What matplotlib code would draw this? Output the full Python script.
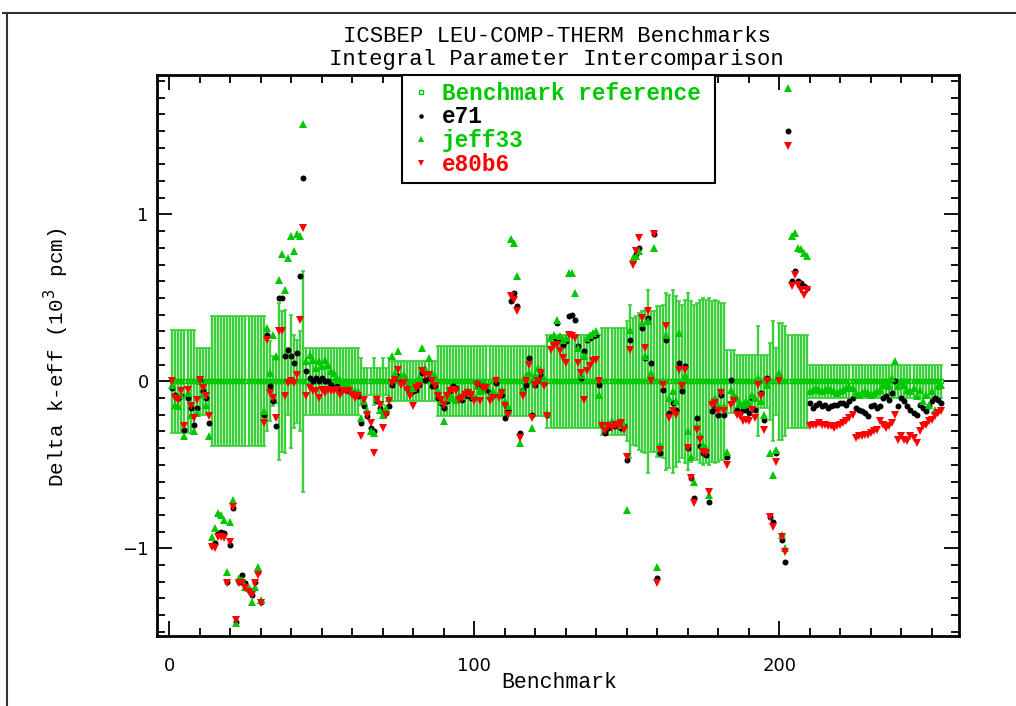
import numpy as np
import matplotlib
matplotlib.use("Agg")
import matplotlib.pyplot as plt
from matplotlib.lines import Line2D
from matplotlib.ticker import MultipleLocator

# benchmark number (1..253) on the x axis
bench = np.arange(1, 254)

# Delta k-eff in 10^3 pcm, 10 benchmarks per line
e71 = [
    -0.04, -0.08, -0.10, -0.09, -0.29, -0.10, -0.16, -0.26, -0.16, 0.00,
    -0.06, -0.10, -0.25, -0.98, -0.97, -0.91, -0.90, -0.91, -1.20, -0.98,
    -0.76, -1.44, -1.20, -1.16, -1.21, -1.25, -1.28, -1.20, -1.14, -1.32,
    -0.20, 0.28, -0.03, -0.12, -0.27, 0.50, 0.50, 0.15, 0.19, 0.15,
    0.11, 0.17, 0.63, 1.22, 0.06, 0.02, 0.00, 0.02, 0.00, 0.02,
    0.00, 0.00, -0.02, -0.04, -0.03, -0.05, -0.03, -0.05, -0.06, -0.07,
    -0.07, -0.09, -0.25, -0.15, -0.21, -0.28, -0.30, -0.12, -0.16, -0.19,
    -0.19, -0.15, -0.02, 0.02, 0.03, 0.00, 0.02, -0.04, -0.07, -0.06,
    -0.05, -0.02, 0.05, 0.01, 0.02, -0.03, -0.03, -0.10, -0.13, -0.16,
    -0.12, -0.06, -0.03, -0.04, -0.10, -0.11, -0.09, -0.08, -0.10, -0.10,
    -0.01, -0.04, -0.03, -0.05, -0.07, -0.08, -0.01, -0.08, -0.08, -0.22,
    -0.17, 0.48, 0.53, 0.45, -0.31, -0.05, -0.02, 0.14, -0.20, -0.02,
    0.01, 0.03, -0.01, -0.20, 0.26, 0.24, 0.35, 0.25, 0.22, 0.24,
    0.39, 0.40, 0.37, 0.21, 0.02, 0.18, 0.25, 0.26, 0.27, 0.28,
    -0.02, -0.26, -0.31, -0.28, -0.26, -0.27, -0.25, -0.28, -0.27, -0.47,
    0.25, 0.72, 0.76, 0.80, 0.32, 0.14, 0.38, 0.11, 0.88, -1.18,
    -0.43, -0.05, 0.25, -0.19, -0.13, -0.17, 0.11, -0.06, 0.09, -0.40,
    -0.58, -0.70, -0.22, -0.39, -0.43, -0.44, -0.72, -0.18, -0.16, -0.20,
    -0.08, -0.20, -0.45, 0.01, -0.10, -0.17, -0.19, -0.17, -0.17, -0.19,
    -0.10, -0.17, 0.00, -0.07, -0.23, 0.02, -0.81, -0.84, -0.43, 0.03,
    -0.95, -1.08, 1.50, 0.60, 0.66, 0.60, 0.59, 0.57, 0.56, -0.13,
    -0.16, -0.14, -0.13, -0.15, -0.14, -0.16, -0.15, -0.14, -0.14, -0.13,
    -0.13, -0.14, -0.12, -0.10, -0.16, -0.17, -0.18, -0.19, -0.21, -0.15,
    -0.14, -0.16, -0.15, -0.10, -0.09, -0.11, -0.07, 0.00, -0.15, -0.10,
    -0.12, -0.15, -0.17, -0.19, -0.20, -0.14, -0.16, -0.18, -0.15, -0.12,
    -0.10, -0.11, -0.13,
]

jeff33 = [
    -0.02, -0.14, -0.15, -0.08, -0.33, -0.07, -0.20, -0.30, -0.19, 0.00,
    -0.08, -0.14, -0.33, -0.93, -0.88, -0.79, -0.80, -0.83, -1.14, -0.84,
    -0.71, -1.45, -1.18, -1.19, -1.23, -1.24, -1.32, -1.23, -1.11, -1.31,
    -0.18, 0.32, 0.05, 0.28, 0.15, 0.61, 0.76, 0.55, 0.74, 0.87,
    0.78, 0.88, 0.87, 1.54, 0.12, 0.16, 0.13, 0.08, 0.12, 0.09,
    0.13, 0.10, 0.06, 0.05, 0.02, 0.01, -0.01, -0.02, -0.03, -0.05,
    -0.06, -0.06, -0.22, -0.12, -0.17, -0.30, -0.31, -0.10, -0.17, -0.20,
    -0.16, -0.10, 0.15, 0.05, 0.18, 0.03, 0.04, 0.00, -0.03, -0.04,
    -0.02, 0.02, 0.20, 0.08, 0.14, 0.05, 0.03, -0.06, -0.12, -0.24,
    -0.10, -0.08, -0.10, -0.11, -0.08, -0.09, -0.06, -0.05, -0.07, -0.09,
    -0.03, -0.06, -0.05, -0.02, -0.08, -0.06, 0.02, -0.07, -0.05, -0.12,
    -0.15, 0.85, 0.83, 0.63, -0.37, -0.05, 0.03, 0.05, -0.28, 0.04,
    0.08, 0.07, 0.02, -0.19, 0.26, 0.28, 0.37, 0.27, 0.25, 0.26,
    0.65, 0.65, 0.53, 0.20, 0.04, 0.15, 0.26, 0.28, 0.29, 0.30,
    -0.08, -0.25, -0.27, -0.25, -0.24, -0.25, -0.24, -0.26, -0.26, -0.77,
    0.31, 0.74, 0.75, 0.78, 0.35, 0.15, 0.36, 0.05, 0.80, -1.11,
    -0.38, 0.00, 0.28, -0.10, -0.06, -0.12, 0.29, -0.02, 0.04, -0.30,
    -0.45, -0.60, -0.27, -0.32, -0.38, -0.40, -0.68, -0.12, -0.10, -0.14,
    -0.05, -0.15, -0.42, -0.05, -0.08, -0.10, -0.13, -0.14, -0.12, -0.13,
    -0.08, -0.10, 0.02, -0.12, -0.20, -0.02, -0.43, -0.56, -0.41, 0.05,
    -0.92, -1.00, 1.76, 0.87, 0.89, 0.80, 0.79, 0.77, 0.75, -0.06,
    -0.05, -0.04, -0.05, -0.06, -0.05, -0.04, -0.05, -0.06, -0.07, -0.06,
    -0.05, -0.04, -0.03, -0.04, -0.07, -0.08, -0.07, -0.06, -0.07, -0.08,
    -0.07, -0.06, -0.05, -0.02, -0.01, -0.03, 0.02, 0.12, -0.03, 0.00,
    -0.02, -0.05, -0.06, -0.04, -0.09, -0.05, -0.12, -0.08, -0.14, -0.06,
    -0.17, -0.03, -0.02,
]

e80b6 = [
    0.00, -0.10, -0.11, -0.06, -0.27, -0.05, -0.15, -0.22, -0.11, 0.01,
    -0.04, -0.09, -0.21, -0.99, -1.00, -0.93, -0.93, -0.94, -1.21, -0.96,
    -0.75, -1.43, -1.21, -1.21, -1.24, -1.26, -1.28, -1.21, -1.16, -1.33,
    -0.25, 0.25, -0.07, -0.10, -0.22, 0.30, 0.30, -0.09, -0.01, 0.00,
    -0.01, 0.04, 0.37, 0.92, -0.09, -0.04, -0.06, -0.06, -0.10, -0.05,
    -0.07, -0.05, -0.06, -0.06, -0.05, -0.08, -0.06, -0.06, -0.06, -0.08,
    -0.10, -0.09, -0.33, -0.11, -0.20, -0.25, -0.43, -0.11, -0.14, -0.28,
    -0.20, -0.12, -0.01, 0.01, 0.07, -0.02, -0.01, -0.05, -0.09, -0.15,
    -0.04, -0.03, 0.06, 0.04, 0.04, 0.00, -0.03, -0.09, -0.11, -0.14,
    -0.09, -0.06, -0.05, -0.06, -0.11, -0.10, -0.08, -0.07, -0.08, -0.12,
    -0.02, -0.12, -0.04, -0.04, -0.12, -0.10, 0.00, -0.10, -0.07, -0.15,
    -0.20, 0.51, 0.49, 0.42, -0.34, -0.09, 0.00, 0.10, -0.22, -0.02,
    0.00, 0.05, -0.03, -0.21, 0.19, 0.21, 0.22, 0.18, 0.14, 0.11,
    0.28, 0.27, 0.26, 0.11, 0.05, -0.11, 0.06, 0.09, 0.12, 0.13,
    0.00, -0.27, -0.30, -0.27, -0.28, -0.26, -0.27, -0.25, -0.29, -0.45,
    0.19, 0.70, 0.78, 0.86, 0.38, 0.20, 0.42, 0.00, 0.88, -1.21,
    -0.41, -0.02, 0.33, -0.22, -0.18, -0.20, 0.07, -0.03, 0.07, -0.40,
    -0.58, -0.73, -0.29, -0.35, -0.42, -0.43, -0.66, -0.14, -0.13, -0.18,
    -0.07, -0.18, -0.50, -0.14, -0.12, -0.20, -0.21, -0.24, -0.23, -0.24,
    -0.17, -0.22, -0.02, -0.09, -0.29, 0.00, -0.81, -0.87, -0.48, 0.00,
    -0.93, -1.02, 1.41, 0.57, 0.64, 0.58, 0.55, 0.52, 0.55, -0.27,
    -0.26, -0.26, -0.25, -0.26, -0.26, -0.27, -0.27, -0.28, -0.27, -0.26,
    -0.25, -0.24, -0.22, -0.20, -0.34, -0.33, -0.33, -0.32, -0.32, -0.31,
    -0.30, -0.29, -0.24, -0.26, -0.28, -0.27, -0.25, -0.20, -0.35, -0.33,
    -0.35, -0.36, -0.33, -0.34, -0.37, -0.30, -0.27, -0.26, -0.24, -0.23,
    -0.21, -0.19, -0.18,
]

# benchmark (experimental) uncertainty, half width of the green bars
ref_unc = ([0.31] * 8 + [0.20] * 5 + [0.39] * 18
           + [0.30, 0.24, 0.15, 0.13, 0.47, 0.42, 0.43, 0.20, 0.40, 0.28, 0.25, 0.30, 0.66]
           + [0.20] * 18
           + [0.14, 0.08, 0.08, 0.08, 0.14, 0.08, 0.08, 0.14, 0.08, 0.14]
           + [0.12] * 15 + [0.21] * 36 + [0.28] * 18 + [0.32] * 8
           + [0.36, 0.46, 0.38, 0.39, 0.41, 0.42, 0.43, 0.55, 0.42, 0.42,
              0.45, 0.45, 0.46, 0.53, 0.52, 0.55, 0.51, 0.48, 0.46, 0.49,
              0.53, 0.48, 0.46, 0.47, 0.49, 0.50, 0.49, 0.50, 0.48, 0.49,
              0.48, 0.47, 0.47]
           + [0.19, 0.19, 0.19, 0.16, 0.16, 0.16, 0.16, 0.16, 0.16, 0.16]
           + [0.33, 0.16, 0.16, 0.16, 0.23, 0.36, 0.20, 0.35, 0.35, 0.33]
           + [0.28] * 7 + [0.10] * 44)

labels = ["Benchmark reference", "e71", "jeff33", "e80b6"]
GREEN = "#00c800"
colors = [GREEN, "black", GREEN, "red"]

W, H = 1016, 706
fig = plt.figure(figsize=(W / 100, H / 100), dpi=100)
ax = fig.add_axes([157 / W, 70 / H, 802 / W, 561 / H])

zero = np.zeros(len(bench))
ax.errorbar(bench, zero, yerr=ref_unc, fmt="none", ecolor="#3ccf3c",
            elinewidth=1.7, capsize=1.6, capthick=1.2, zorder=1)
h_ref, = ax.plot(bench, zero, "s", mfc="none", mec=GREEN, ms=3.5, mew=1.0, zorder=2)
h_e71, = ax.plot(bench, e71, "o", color="black", ms=4.3, mew=0, zorder=3)
h_jeff, = ax.plot(bench, jeff33, "^", color=GREEN, ms=5.2, mew=0, zorder=3)
h_e80, = ax.plot(bench, e80b6, "v", color="red", ms=5.2, mew=0, zorder=4)

ax.set_xlim(-4.0, 258.9)
ax.set_ylim(-1.525, 1.835)
ax.xaxis.set_major_locator(MultipleLocator(100))
ax.xaxis.set_minor_locator(MultipleLocator(10))
ax.yaxis.set_major_locator(MultipleLocator(1))
ax.yaxis.set_minor_locator(MultipleLocator(0.1))
ax.tick_params(which="both", direction="in", top=True, right=True, width=1.3)
ax.tick_params(which="major", length=11)
ax.tick_params(which="minor", length=5.5)
ax.tick_params(axis="x", pad=15)
ax.tick_params(axis="y", pad=6)
for lab in ax.get_xticklabels() + ax.get_yticklabels():
    lab.set_family("DejaVu Sans")
    lab.set_fontsize(13)
for sp in ax.spines.values():
    sp.set_linewidth(2.0)

mono = "Liberation Mono"
ax.set_xlabel("Benchmark", family=mono, fontsize=15.5)
ax.xaxis.set_label_coords(0.501, -0.083)
ax.xaxis.label.set_va("center")
ax.set_ylabel("Delta k-eff (10$^3$ pcm)", family=mono, fontsize=15)
ax.yaxis.set_label_coords(-0.125, 0.497)
ax.yaxis.label.set_va("center")

fig.text(0.548, 1 - 36 / H, "ICSBEP LEU-COMP-THERM Benchmarks", family=mono,
         fontsize=16, ha="center", va="center")
fig.text(0.548, 1 - 59 / H, "Integral Parameter Intercomparison", family=mono,
         fontsize=16, ha="center", va="center")

# legend box spans x = 402..715 px, hanging from the top spine
leg = ax.legend([h_ref, h_e71, h_jeff, h_e80], labels, loc="upper left",
                bbox_to_anchor=(245 / 802, 0, 313 / 802, 1.0), mode="expand",
                borderaxespad=0, fancybox=False,
                framealpha=1, edgecolor="black", numpoints=1,
                prop=dict(family=mono, weight="bold", size=16.3),
                handlelength=1.1, handletextpad=0.35, labelspacing=0.03,
                borderpad=0.3, markerscale=0.75)
leg.get_frame().set_linewidth(1.5)
for txt, c in zip(leg.get_texts(), colors):
    txt.set_color(c)

# outer frame of the original page (left and top edges only are visible)
fig.add_artist(Line2D([7 / W, 7 / W], [0, 1 - 13 / H], transform=fig.transFigure,
                      color="#333333", lw=1.5))
fig.add_artist(Line2D([3 / W, 1], [1 - 13 / H, 1 - 13 / H], transform=fig.transFigure,
                      color="#333333", lw=1.5))

fig.savefig("out.png", dpi=100)
